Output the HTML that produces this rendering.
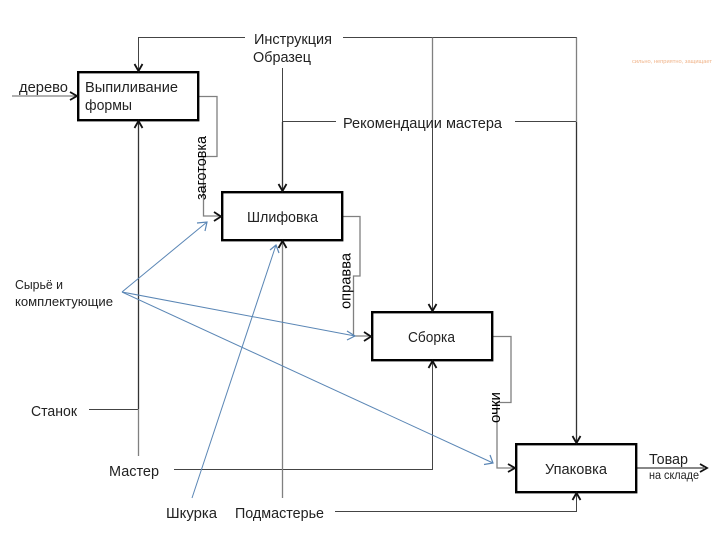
<!DOCTYPE html>
<html>
<head>
<meta charset="utf-8">
<style>
html,body{margin:0;padding:0;background:#fff;width:720px;height:540px;overflow:hidden}
svg{display:block}
text{font-family:"Liberation Sans",sans-serif;fill:#222;font-size:15px}
</style>
</head>
<body>
<svg width="720" height="540" viewBox="0 0 720 540" xmlns="http://www.w3.org/2000/svg">
<rect width="720" height="540" fill="#fff"/>

<!-- dark connectors -->
<g fill="none" stroke="#444" stroke-width="1">
<path d="M245 37.5H138.5V72"/>
<path d="M343 37.5H576.5V444"/>
<path d="M432.5 37.5V312"/>
<path d="M282.5 68V192"/>
<path d="M282.5 121.5H336"/>
<path d="M515 121.5H577"/>
<path d="M89 409.5H138"/>
<path d="M174 469.5H432.5V360"/>
<path d="M335 511.5H576.5V492"/>
</g>
<g fill="none" stroke="#333" stroke-width="1.3">
<path d="M138.5 120V409"/>
<path d="M282.5 122V190"/>
<path d="M576.5 122V442"/>
</g>
<!-- gray connectors -->
<g fill="none" stroke="#808080" stroke-width="1.3">
<path d="M12 96H76"/>
<path d="M198 96.500H217V156.500H203.500V216H220"/>
<path d="M342 216.500H360V276H353.500V336H370"/>
<path d="M492 336.500H511V402.500H497V468H514"/>
<path d="M138.500 409V456"/>
<path d="M282.500 240V498"/>
<path d="M432.500 37.500V122"/>
<path d="M576.500 37.500V122"/>
</g>
<path d="M636 468H704" fill="none" stroke="#777" stroke-width="1.800"/>

<!-- blue connectors -->
<g fill="none" stroke="#5a86b5" stroke-width="1">
<path d="M122 292L207 222"/>
<path d="M122 292L355 336"/>
<path d="M122 292L493 463"/>
<path d="M192 498L276 245"/>
</g>
<g fill="none" stroke="#5a86b5" stroke-width="1.200">
<path d="M197 223L207 222L205 231"/>
<path d="M347 331L355 336L347 340"/>
<path d="M484 464.500L493 463L490 455"/>
<path d="M270 250L276 245L279 253"/>
</g>

<!-- boxes -->
<g fill="#fff" stroke="#000" stroke-width="2.400">
<rect x="78.200" y="72.200" width="120" height="48"/>
<rect x="222.200" y="192.200" width="120" height="48"/>
<rect x="372.200" y="312.200" width="120" height="48"/>
<rect x="516.200" y="444.200" width="120" height="48"/>
</g>

<!-- arrowheads -->
<g fill="none" stroke="#111" stroke-width="1.800">
<path d="M134.500 64L138.500 71L142.500 64"/>
<path d="M134.500 128L138.500 121L142.500 128"/>
<path d="M278.500 184L282.500 191L286.500 184"/>
<path d="M278.500 248L282.500 241L286.500 248"/>
<path d="M428.500 304L432.500 311L436.500 304"/>
<path d="M428.500 368L432.500 361L436.500 368"/>
<path d="M572.500 436L576.500 443L580.500 436"/>
<path d="M572.500 500L576.500 493L580.500 500"/>
<path d="M70 92L77 96L70 100"/>
<path d="M214 212L221 216.500L214 221"/>
<path d="M364 332L371 336.500L364 341"/>
<path d="M508 464L515 468L508 472"/>
<path d="M700 464L707 468L700 472"/>
</g>

<!-- labels -->
<text x="254" y="44" textLength="78" lengthAdjust="spacingAndGlyphs">Инструкция</text>
<text x="253" y="62" textLength="58" lengthAdjust="spacingAndGlyphs">Образец</text>
<text x="19" y="92" textLength="49" lengthAdjust="spacingAndGlyphs">дерево</text>
<text x="85" y="92" textLength="93" lengthAdjust="spacingAndGlyphs">Выпиливание</text>
<text x="85" y="110" textLength="47" lengthAdjust="spacingAndGlyphs">формы</text>
<text x="247" y="222" textLength="71" lengthAdjust="spacingAndGlyphs">Шлифовка</text>
<text x="343" y="128" textLength="159" lengthAdjust="spacingAndGlyphs">Рекомендации мастера</text>
<text x="408" y="342" textLength="47" lengthAdjust="spacingAndGlyphs">Сборка</text>
<text x="545" y="474" textLength="62" lengthAdjust="spacingAndGlyphs">Упаковка</text>
<text x="649" y="464" textLength="39" lengthAdjust="spacingAndGlyphs">Товар</text>
<text x="649" y="479" textLength="50" lengthAdjust="spacingAndGlyphs" style="font-size:12px">на складе</text>
<text x="15" y="289" textLength="48" lengthAdjust="spacingAndGlyphs" style="font-size:13px">Сырьё и</text>
<text x="15" y="306" textLength="98" lengthAdjust="spacingAndGlyphs" style="font-size:13px">комплектующие</text>
<text x="31" y="416" textLength="46" lengthAdjust="spacingAndGlyphs">Станок</text>
<text x="109" y="476" textLength="50" lengthAdjust="spacingAndGlyphs">Мастер</text>
<text x="166" y="518" textLength="51" lengthAdjust="spacingAndGlyphs">Шкурка</text>
<text x="235" y="518" textLength="89" lengthAdjust="spacingAndGlyphs">Подмастерье</text>

<text transform="translate(206 200) rotate(-90)" textLength="64" lengthAdjust="spacingAndGlyphs" style="fill:#000">заготовка</text>
<text transform="translate(350.500 309) rotate(-90)" textLength="56" lengthAdjust="spacingAndGlyphs" style="fill:#000">оправва</text>
<text transform="translate(500 423) rotate(-90)" textLength="31" lengthAdjust="spacingAndGlyphs" style="fill:#000">очки</text>

<text x="632" y="63" textLength="80" lengthAdjust="spacingAndGlyphs" style="font-size:5px;fill:#f0b48a">сильно, неприятно, защищает</text>
</svg>
</body>
</html>
